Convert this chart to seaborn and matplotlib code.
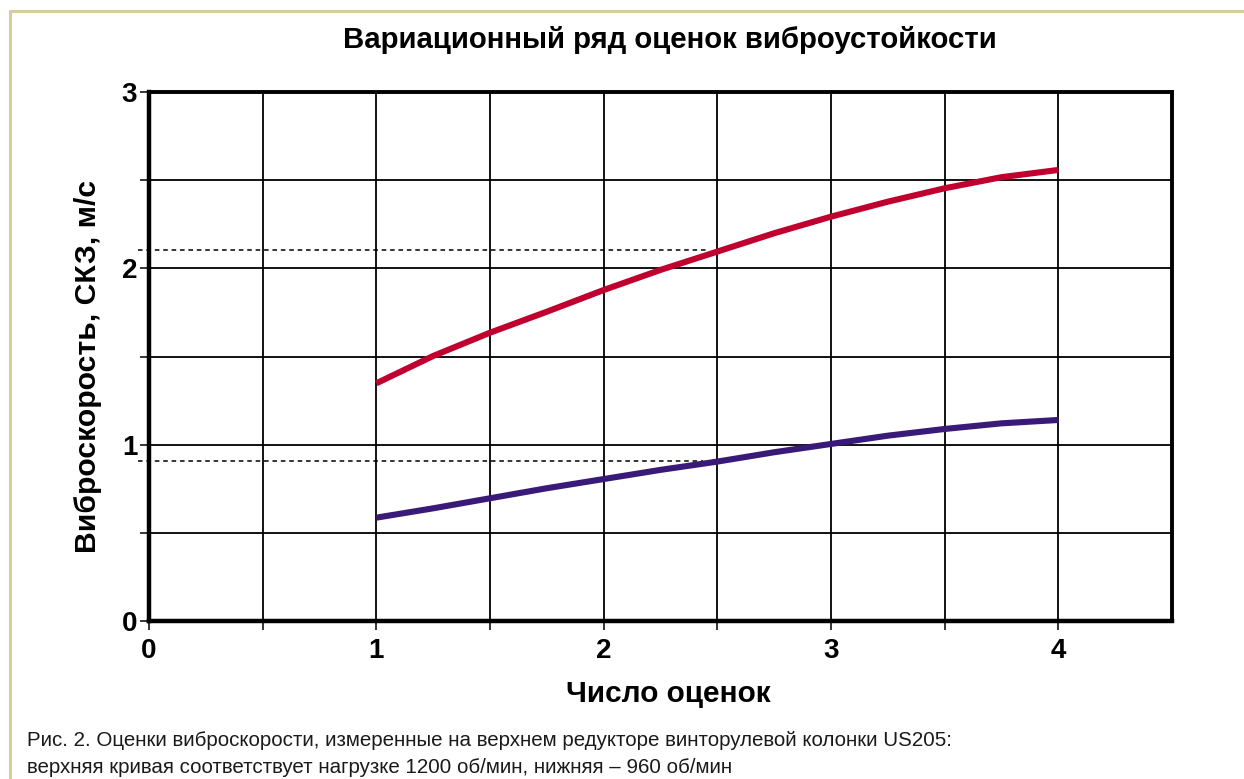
import matplotlib
matplotlib.use("Agg")
import matplotlib.pyplot as plt
from matplotlib.lines import Line2D
from matplotlib.ticker import FixedLocator
import pandas as pd
import seaborn as sns

# Число оценок (ось X) и оценки виброскорости, СКЗ, м/с
n_estimates = [1.0, 1.25, 1.5, 1.75, 2.0, 2.25, 2.5, 2.75, 3.0, 3.25, 3.5, 3.75, 4.0]
upper_1200 = [1.348, 1.503, 1.635, 1.754, 1.877, 1.991, 2.095, 2.199, 2.293,
              2.378, 2.454, 2.517, 2.558]   # 1200 об/мин
lower_960 = [0.586, 0.639, 0.696, 0.753, 0.805, 0.857, 0.904, 0.957, 1.004,
             1.051, 1.089, 1.121, 1.140]    # 960 об/мин

# Уровни, отмеченные пунктиром
ref_levels = [2.104, 0.909]
ref_x_end = [2.46, 2.435]

x_major = [0, 1, 2, 3, 4]
y_major = [0, 1, 2, 3]

title = "Вариационный ряд оценок виброустойкости"
xlabel = "Число оценок"
ylabel = "Виброскорость, СКЗ, м/с"
caption = ("Рис. 2. Оценки виброскорости, измеренные на верхнем редукторе винторулевой колонки US205:\n"
           "верхняя кривая соответствует нагрузке 1200 об/мин, нижняя – 960 об/мин")

sns.set_theme(style="white")
plt.rcParams["font.family"] = ["Liberation Sans", "DejaVu Sans"]
plt.rcParams["text.color"] = "black"
plt.rcParams["xtick.color"] = "black"
plt.rcParams["ytick.color"] = "black"
plt.rcParams["axes.labelcolor"] = "black"

fig = plt.figure(figsize=(12.44, 7.79), dpi=100)
ax = fig.add_axes([149 / 1244, 1 - 621 / 779, (1172 - 149) / 1244, (621 - 92) / 779])

df = pd.DataFrame({
    "x": n_estimates * 2,
    "y": upper_1200 + lower_960,
    "curve": ["1200"] * len(n_estimates) + ["960"] * len(n_estimates),
})
sns.lineplot(data=df, x="x", y="y", hue="curve",
             palette={"1200": "#c0002f", "960": "#3a1a78"},
             linewidth=4.4, legend=False, ax=ax, zorder=5,
             solid_capstyle="butt", solid_joinstyle="round")

for lvl, xe in zip(ref_levels, ref_x_end):
    ax.plot([-0.05, xe], [lvl, lvl], color="black", linewidth=1.1,
            linestyle=(0, (3, 2.5)), clip_on=False, zorder=4)

ax.set_xlim(0, 4.5)
ax.set_ylim(0, 3)
ax.xaxis.set_major_locator(FixedLocator(x_major))
ax.xaxis.set_minor_locator(FixedLocator([0.5, 1.5, 2.5, 3.5]))
ax.yaxis.set_major_locator(FixedLocator(y_major))
ax.yaxis.set_minor_locator(FixedLocator([0.5, 1.5, 2.5]))

ax.grid(True, which="both", color="black", linewidth=1.3)
ax.set_axisbelow(True)
ax.tick_params(which="both", direction="out", length=6.5, width=1.1, color="black",
               left=True, bottom=True)
ax.tick_params(axis="x", which="major", pad=6, labelsize=20, labelcolor="black")
ax.tick_params(axis="y", which="major", pad=2, labelsize=20, labelcolor="black")
for lab in ax.get_xticklabels() + ax.get_yticklabels():
    lab.set_fontweight("bold")

for side in ["left", "bottom", "top", "right"]:
    ax.spines[side].set_visible(True)
    ax.spines[side].set_color("black")
ax.spines["left"].set_linewidth(3.2)
ax.spines["bottom"].set_linewidth(3.2)
ax.spines["top"].set_linewidth(2.8)
ax.spines["right"].set_linewidth(2.8)

ax.set_xlabel("")
ax.set_ylabel("")
fig.text(668 / 1244, 1 - 694 / 779, xlabel, ha="center", va="center",
         fontsize=21.4, fontweight="bold", color="black")
fig.text(88 / 1244, 1 - 366 / 779, ylabel, ha="center", va="center",
         rotation=90, fontsize=21.7, fontweight="bold", color="black")
fig.text(670 / 1244, 1 - 40 / 779, title, ha="center", va="center",
         fontsize=21.2, fontweight="bold", color="black")
fig.text(27 / 1244, 1 - 754 / 779, caption, ha="left", va="center",
         fontsize=14.8, linespacing=1.55, color="#1a1a1a")

# рамка страницы
frame_color = "#d3cda0"
fig.add_artist(Line2D([9.5 / 1244, 1.0], [1 - 11 / 779, 1 - 11 / 779],
                      color=frame_color, linewidth=2.2, transform=fig.transFigure))
fig.add_artist(Line2D([9.5 / 1244, 9.5 / 1244], [0.0, 1 - 11 / 779],
                      color=frame_color, linewidth=2.2, transform=fig.transFigure))

fig.savefig("out.png", dpi=100, facecolor="white")
